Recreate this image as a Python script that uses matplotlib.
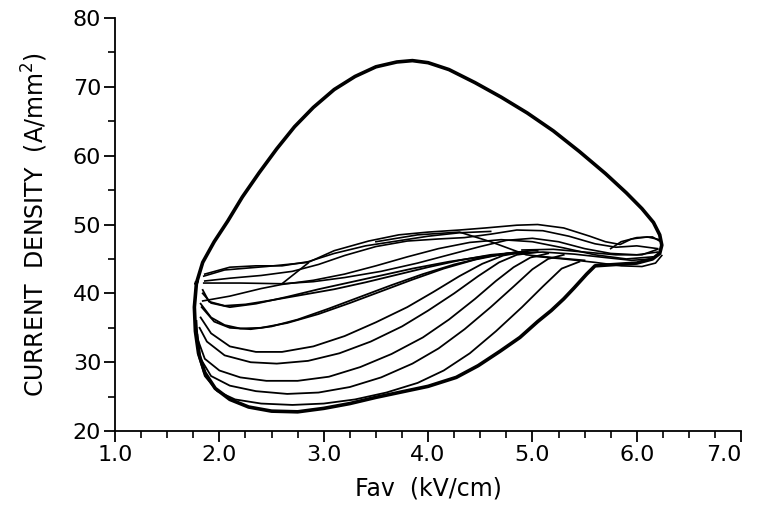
import matplotlib
matplotlib.use("Agg")
import matplotlib.pyplot as plt
from matplotlib.ticker import MultipleLocator, FormatStrFormatter

# limit cycle: upper arc over the top, round the right tip, lower envelope back
cycle_x = [1.78, 1.84, 1.95, 2.08, 2.22, 2.38, 2.55, 2.72, 2.90, 3.10, 3.30, 3.50,
           3.70, 3.85, 4.00, 4.20, 4.45, 4.70, 4.95, 5.20, 5.45, 5.70, 5.90, 6.05,
           6.16, 6.22, 6.24, 6.22, 6.15, 6.00, 5.80, 5.60,
           5.52, 5.40, 5.30, 5.18, 5.05, 4.88, 4.69, 4.48, 4.27, 4.00, 3.75, 3.50,
           3.25, 3.00, 2.75, 2.50, 2.28, 2.10, 1.96, 1.86, 1.80, 1.77, 1.76, 1.78]
cycle_y = [41.5, 44.5, 47.5, 50.5, 54.0, 57.5, 61.0, 64.2, 67.0, 69.6, 71.5, 72.9,
           73.6, 73.8, 73.5, 72.5, 70.6, 68.5, 66.2, 63.6, 60.6, 57.4, 54.6, 52.3,
           50.3, 48.5, 47.0, 45.8, 45.0, 44.4, 44.2, 44.0,
           42.8, 40.8, 39.2, 37.5, 35.9, 33.6, 31.6, 29.5, 27.8, 26.5, 25.7, 24.9,
           24.0, 23.3, 22.8, 22.9, 23.5, 24.6, 26.2, 28.5, 31.3, 34.5, 38.0, 41.5]

# lower family of transients, from the one next to the envelope upwards
family_x = [
    [1.78, 1.80, 1.86, 1.98, 2.15, 2.40, 2.70, 3.00, 3.30, 3.60, 3.90, 4.15, 4.40, 4.65, 4.90, 5.10, 5.28, 5.45],
    [1.79, 1.82, 1.92, 2.10, 2.35, 2.65, 2.95, 3.25, 3.55, 3.85, 4.10, 4.35, 4.60, 4.82, 5.00, 5.15, 5.30],
    [1.80, 1.86, 2.00, 2.20, 2.45, 2.75, 3.05, 3.35, 3.65, 3.95, 4.20, 4.45, 4.65, 4.82, 4.98, 5.15],
    [1.81, 1.88, 2.05, 2.30, 2.55, 2.85, 3.15, 3.45, 3.75, 4.00, 4.25, 4.48, 4.68, 4.85, 5.05],
    [1.82, 1.92, 2.10, 2.35, 2.60, 2.90, 3.20, 3.50, 3.80, 4.05, 4.30, 4.52, 4.72, 4.95],
    [1.82, 1.92, 2.05, 2.20, 2.40, 2.65, 2.95, 3.25, 3.55, 3.85, 4.15, 4.45, 4.75, 5.05],
    [1.83, 1.95, 2.10, 2.30, 2.50, 2.75, 3.05, 3.35, 3.65, 3.95, 4.25, 4.55, 4.85],
    [1.84, 1.90, 2.05, 2.25, 2.50, 2.80, 3.10, 3.40, 3.70, 4.00, 4.30, 4.60, 4.90],
    [1.84, 1.92, 2.10, 2.35, 2.65, 2.95, 3.25, 3.55, 3.85, 4.20, 4.55, 4.90],
]
family_y = [
    [36.0, 31.0, 28.0, 25.8, 24.6, 24.0, 23.8, 24.0, 24.6, 25.6, 27.0, 28.8, 31.3, 34.5, 38.0, 41.0, 43.6, 44.6],
    [34.0, 30.5, 28.0, 26.6, 25.8, 25.4, 25.6, 26.4, 27.8, 29.8, 32.0, 34.8, 38.0, 41.0, 43.5, 45.0, 45.6],
    [33.0, 30.5, 28.8, 27.8, 27.3, 27.3, 27.9, 29.3, 31.2, 33.6, 36.2, 39.2, 41.8, 43.8, 45.2, 45.8],
    [35.0, 33.0, 31.0, 30.0, 29.8, 30.2, 31.3, 33.0, 35.2, 37.5, 40.0, 42.5, 44.5, 45.6, 46.0],
    [36.5, 34.2, 32.3, 31.5, 31.5, 32.3, 33.8, 35.8, 38.0, 40.2, 42.5, 44.3, 45.5, 46.1],
    [38.5, 36.5, 35.4, 34.9, 35.0, 35.7, 37.0, 38.6, 40.3, 42.0, 43.6, 44.9, 45.8, 46.3],
    [38.0, 35.9, 35.0, 34.8, 35.2, 36.2, 37.8, 39.5, 41.2, 42.8, 44.2, 45.3, 46.0],
    [40.5, 38.8, 38.2, 38.4, 39.0, 39.8, 40.6, 41.6, 42.7, 43.8, 44.8, 45.6, 46.0],
    [40.0, 38.6, 38.0, 38.5, 39.5, 40.6, 41.6, 42.6, 43.6, 44.6, 45.4, 45.9],
]

# band towards the right tip and the tangle running back to the left wall
tangle_x = [
    [4.80, 5.10, 5.40, 5.70, 5.95, 6.15, 6.22],
    [5.00, 5.30, 5.60, 5.85, 6.05, 6.18, 6.24],
    [4.90, 5.20, 5.50, 5.80, 6.05, 6.20],
    [5.75, 5.85, 6.00, 6.15, 6.23],
    [6.22, 6.10, 5.95, 5.84, 5.70, 5.55, 5.30, 5.05, 4.85, 4.55, 4.30, 4.00, 3.72, 3.43, 3.10, 2.85, 2.45, 2.05, 1.85],
    [6.20, 6.00, 5.80, 5.60, 5.35, 5.10, 4.85, 4.60, 4.35, 4.10, 3.80, 3.50, 3.20, 2.95, 2.70, 2.40, 2.10, 1.86],
    [1.85, 2.20, 2.60, 2.90, 3.20, 3.55, 3.90, 4.20, 4.50, 4.75, 5.00, 5.25, 5.50, 5.75, 6.00, 6.20],
    [1.84, 2.10, 2.40, 2.60, 2.90, 3.20, 3.50, 3.80, 4.10, 4.40, 4.70, 5.00, 5.30, 5.60, 5.90, 6.15],
    [1.86, 2.10, 2.35, 2.60, 2.85, 3.10, 3.40, 3.70, 4.00, 4.30, 4.60],
    [2.60, 2.85],
    [3.50, 3.90, 4.30, 4.60, 4.94, 5.20, 5.50],
]
tangle_y = [
    [45.8, 46.0, 45.7, 45.2, 44.8, 45.0, 46.0],
    [45.4, 45.0, 44.5, 44.0, 43.9, 44.4, 45.5],
    [46.3, 46.4, 46.0, 45.6, 45.6, 46.4],
    [46.5, 47.5, 48.1, 48.2, 47.5],
    [47.8, 48.2, 47.9, 47.1, 47.5, 48.3, 49.5, 50.0, 49.9, 49.5, 49.2, 48.9, 48.5, 47.6, 46.2, 44.5, 43.9, 43.4, 42.5],
    [46.5, 46.9, 46.7, 47.2, 48.3, 49.1, 49.2, 48.6, 48.1, 47.9, 47.6, 46.8, 45.5, 44.2, 43.2, 42.6, 42.2, 41.8],
    [41.5, 41.5, 41.4, 41.7, 42.3, 43.2, 44.4, 45.6, 46.8, 47.7, 48.0, 47.5, 46.5, 45.8, 45.6, 46.0],
    [38.9, 39.6, 40.7, 41.3, 41.9, 42.8, 44.0, 45.3, 46.5, 47.4, 47.8, 47.5, 46.6, 45.6, 45.0, 45.3],
    [42.8, 43.8, 44.0, 44.0, 44.6, 45.8, 46.9, 47.6, 48.3, 48.8, 49.0],
    [41.4, 44.4],
    [47.5, 48.5, 48.9, 47.5, 45.6, 45.2, 44.8],
]

fig = plt.figure(figsize=(7.57, 5.12), dpi=100)
ax = fig.add_axes([0.152, 0.158, 0.827, 0.807])

for xs, ys in zip(family_x, family_y):
    ax.plot(xs, ys, color="black", lw=1.3, solid_joinstyle="round")
for xs, ys in zip(tangle_x, tangle_y):
    ax.plot(xs, ys, color="black", lw=1.2, solid_joinstyle="round")
ax.plot(cycle_x, cycle_y, color="black", lw=2.6, solid_joinstyle="round")

ax.set_xlim(1.0, 7.0)
ax.set_ylim(20, 80)
ax.spines["top"].set_visible(False)
ax.spines["right"].set_visible(False)
ax.spines["left"].set_linewidth(1.3)
ax.spines["bottom"].set_linewidth(1.3)
ax.xaxis.set_major_locator(MultipleLocator(1.0))
ax.xaxis.set_minor_locator(MultipleLocator(0.25))
ax.yaxis.set_major_locator(MultipleLocator(10))
ax.yaxis.set_minor_locator(MultipleLocator(5))
ax.xaxis.set_major_formatter(FormatStrFormatter("%.1f"))
ax.tick_params(which="major", direction="out", length=8, width=1.3, labelsize=16, pad=2)
ax.tick_params(which="minor", direction="out", length=5, width=1.2)
# keep the last x label inside the canvas
ax.get_xticklabels()
for lbl in ax.xaxis.get_majorticklabels():
    if lbl.get_text() == "7.0":
        lbl.set_horizontalalignment("right")

ax.set_xlabel("Fav  (kV/cm)", fontsize=17, labelpad=8)
ax.set_ylabel(r"CURRENT  DENSITY  (A/mm$^{2}$)", fontsize=17, labelpad=16)

fig.canvas.draw()
last = ax.xaxis.get_majorticklabels()[-1]
last.set_horizontalalignment("center")
last.set_x(6.985)

fig.savefig("out.png", dpi=100)
